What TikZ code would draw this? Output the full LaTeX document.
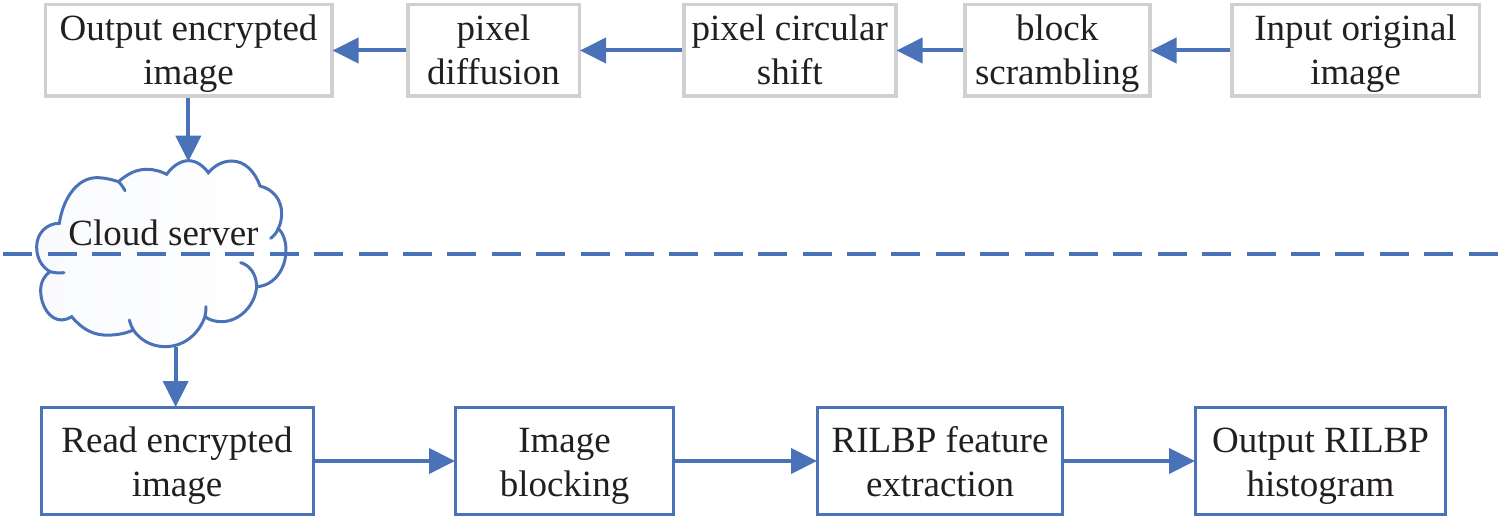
\documentclass[tikz,border=0pt]{standalone}
\usepackage{fontspec}
\setmainfont{Liberation Serif}
\usetikzlibrary{arrows.meta}
\definecolor{blueline}{HTML}{4A72B8}
\definecolor{greyline}{HTML}{D0D0D0}
\definecolor{textcol}{HTML}{231F20}
\definecolor{cloudtint}{HTML}{F9FAFD}
\tikzset{
  x=1bp,y=-1bp,
  basebox/.style={rectangle,inner sep=0pt,align=center,anchor=north west,text=textcol,font=\fontsize{37bp}{44bp}\selectfont},
  greybox/.style={basebox,draw=greyline,line width=3.5bp,execute at begin node={\def\padh{31.4bp}\def\gapx{0bp}}},
  bluebox/.style={basebox,draw=blueline,line width=3bp,execute at begin node={\def\padh{35.4bp}\def\gapx{0.5bp}}},
  conn/.style={draw=blueline,line width=4bp,-{Triangle[length=26bp,width=25bp]},shorten >=-1bp},
  cloudline/.style={draw=blueline,line width=3bp,line cap=round},
  divider/.style={draw=blueline,line width=3.8bp,dash pattern=on 29bp off 15.4bp},
}
\newcommand{\bx}[7]{\node[#1,minimum width=#4bp,minimum height=#5bp] (#2) at (#3) {\rule{0pt}{\padh}\vphantom{pg}#6\\[\gapx]\vphantom{Apg}#7};}
\begin{document}
\begin{tikzpicture}
\useasboundingbox (0,0) rectangle (1501,520);
% top row
\bx{greybox}{oe}{43.5,3}{286.5}{91.5}{Output encrypted}{image}
\bx{greybox}{pd}{406,3}{171.5}{91.5}{pixel}{diffusion}
\bx{greybox}{pc}{682,3}{212}{91.5}{pixel circular}{shift}
\bx{greybox}{bs}{963,3}{185}{91.5}{block}{scrambling}
\bx{greybox}{io}{1230,3}{247.5}{91.5}{Input original}{image}
% bottom row
\bx{bluebox}{re}{39.5,406}{272}{107}{Read encrypted}{image}
\bx{bluebox}{ib}{454,406}{218}{107}{Image}{blocking}
\bx{bluebox}{rf}{816,406}{245}{107}{RILBP feature}{extraction}
\bx{bluebox}{or}{1194,406}{250}{107}{Output RILBP}{histogram}
% cloud
\begin{scope}[x=0.33333bp,y=-0.33333bp,yshift=-130bp]
\path[cloudline,left color=cloudtint,right color=white]
 (500,133) .. controls (520,105) and (545,92) .. (565,92) .. controls (590,92) and (610,108) .. (625,128)
 .. controls (645,105) and (670,93) .. (695,93) .. controls (735,93) and (765,125) .. (780,168)
 .. controls (820,178) and (845,210) .. (845,250) .. controls (845,265) and (842,282) .. (835,295)
 .. controls (850,310) and (858,335) .. (858,360) .. controls (858,420) and (820,468) .. (770,470)
 .. controls (765,530) and (715,575) .. (665,575) .. controls (645,575) and (628,570) .. (615,560)
 .. controls (595,615) and (550,650) .. (495,650) .. controls (455,650) and (420,630) .. (400,600)
 .. controls (375,612) and (340,617) .. (310,615) .. controls (270,612) and (240,590) .. (215,560)
 .. controls (205,566) and (195,570) .. (185,570) .. controls (150,570) and (122,530) .. (122,480)
 .. controls (122,455) and (135,435) .. (150,425)
 .. controls (125,410) and (110,385) .. (110,350) .. controls (110,310) and (140,280) .. (178,280)
 .. controls (190,200) and (235,143) .. (290,143) .. controls (315,143) and (340,150) .. (355,155)
 .. controls (385,130) and (410,118) .. (440,118) .. controls (465,118) and (485,125) .. (500,133) -- cycle;
\draw[cloudline] (835,295) .. controls (830,308) and (822,318) .. (812,325);
\draw[cloudline] (770,470) .. controls (770,435) and (750,405) .. (722,398);
\draw[cloudline] (615,560) .. controls (617,550) and (618,540) .. (618,530);
\draw[cloudline] (400,600) .. controls (395,590) and (390,580) .. (388,570);
\draw[cloudline] (150,425) .. controls (165,429) and (180,430) .. (192,428);
\draw[cloudline] (355,155) .. controls (363,162) and (370,172) .. (375,182);
\coordinate (cloudtop) at (565,92);
\coordinate (cloudbot) at (527,650);
\coordinate (divl) at (10,371);
\coordinate (divr) at (4503,371);
\end{scope}
\node[inner sep=0pt,text=textcol,font=\fontsize{37bp}{44bp}\selectfont] (cs) at (163.5,233) {Cloud server};
\draw[divider] (divl) -- (divr);
% connectors
\draw[conn] (io.west) -- (bs.east);
\draw[conn] (bs.west) -- (pc.east);
\draw[conn] (pc.west) -- (pd.east);
\draw[conn] (pd.west) -- (oe.east);
\draw[conn] (oe.south -| cloudtop) -- (cloudtop);
\draw[conn] (cloudbot) -- (re.north -| cloudbot);
\draw[conn] (re.east) -- (ib.west);
\draw[conn] (ib.east) -- (rf.west);
\draw[conn] (rf.east) -- (or.west);
\end{tikzpicture}
\end{document}
